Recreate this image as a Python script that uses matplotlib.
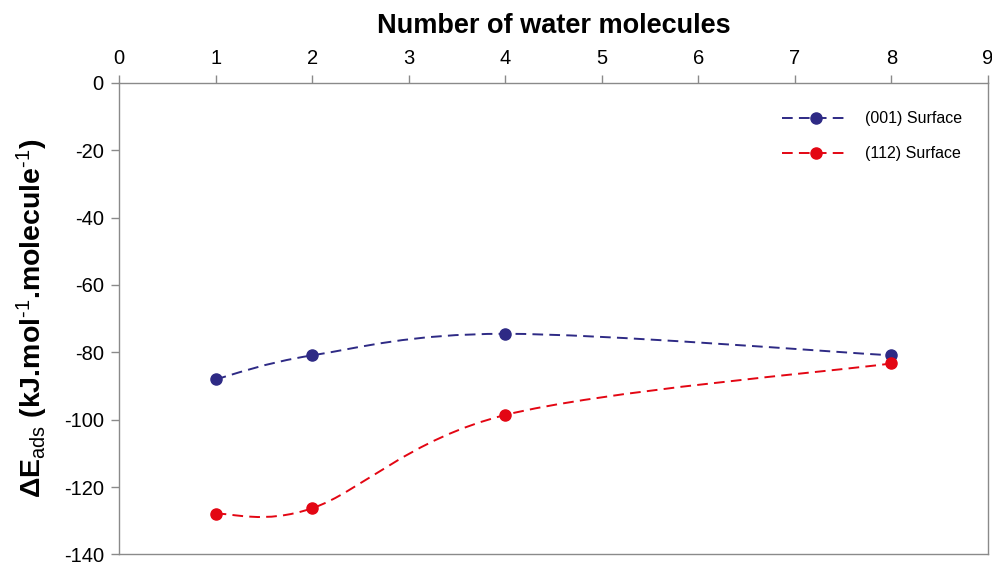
import matplotlib
matplotlib.use("Agg")
import matplotlib.pyplot as plt
import numpy as np
from matplotlib.path import Path
from matplotlib.patches import PathPatch
from matplotlib.lines import Line2D

plt.rcParams["font.family"] = ["Liberation Sans", "DejaVu Sans"]
plt.rcParams["mathtext.fontset"] = "custom"
plt.rcParams["mathtext.rm"] = "Liberation Sans"
plt.rcParams["mathtext.it"] = "Liberation Sans:italic"
plt.rcParams["mathtext.bf"] = "Liberation Sans:bold"
plt.rcParams["axes.unicode_minus"] = False

n_water = [1, 2, 4, 8]
e_001 = [-88.0, -80.9, -74.5, -80.9]
e_112 = [-127.9, -126.3, -98.6, -83.3]
labels = ["(001) Surface", "(112) Surface"]
colors = ["#2e2a85", "#e30613"]

x_ticks = list(range(0, 10))
y_ticks = list(range(0, -141, -20))

DASH = (0, (5.5, 3.2))


def smooth_path(xs, ys):
    # Excel-style smoothed line: Catmull-Rom segments as cubic Beziers
    p = np.column_stack([xs, ys]).astype(float)
    verts = [p[0]]
    codes = [Path.MOVETO]
    for i in range(len(p) - 1):
        p0 = p[i - 1] if i > 0 else p[i]
        p3 = p[i + 2] if i + 2 < len(p) else p[i + 1]
        c1 = p[i] + (p[i + 1] - p0) / 6.0
        c2 = p[i + 1] - (p3 - p[i]) / 6.0
        verts += [c1, c2, p[i + 1]]
        codes += [Path.CURVE4] * 3
    return Path(verts, codes)


fig = plt.figure(figsize=(9.92, 5.64), dpi=100)
ax = fig.add_axes([0.12, 0.017, 0.876, 0.836])

handles = []
for ys, c, lab in zip([e_001, e_112], colors, labels):
    ax.add_patch(PathPatch(smooth_path(n_water, ys), facecolor="none",
                           edgecolor=c, linewidth=1.4, linestyle=DASH, zorder=3))
    ax.plot(n_water, ys, "o", color=c, markersize=8, zorder=4)
    handles.append(Line2D([], [], color=c, linewidth=1.4, linestyle=DASH,
                          marker="o", markersize=8, label=lab))

ax.set_xlim(0, 9)
ax.set_ylim(-140, 0)
ax.set_xticks(x_ticks)
ax.set_yticks(y_ticks)

ax.xaxis.tick_top()
ax.xaxis.set_label_position("top")
ax.set_xlabel("Number of water molecules", fontsize=19.5, fontweight="bold", labelpad=11)
ax.set_ylabel(r"ΔE$_{\mathrm{ads}}$ (kJ.mol$^{\text{-1}}$.molecule$^{\text{-1}}$)",
              fontsize=20.5, fontweight="bold", labelpad=10)

for s in ax.spines.values():
    s.set_color("#8a8a8a")
    s.set_linewidth(1.0)
ax.tick_params(axis="both", direction="out", length=6, width=1.0, color="#8a8a8a",
               labelsize=14.5, pad=5, labelcolor="black")

ax.legend(handles=handles, loc="upper right", frameon=False, fontsize=11.5,
          handlelength=4.2, handletextpad=1.0, labelspacing=1.25,
          bbox_to_anchor=(0.987, 0.970))

fig.savefig("out.png", dpi=100)
